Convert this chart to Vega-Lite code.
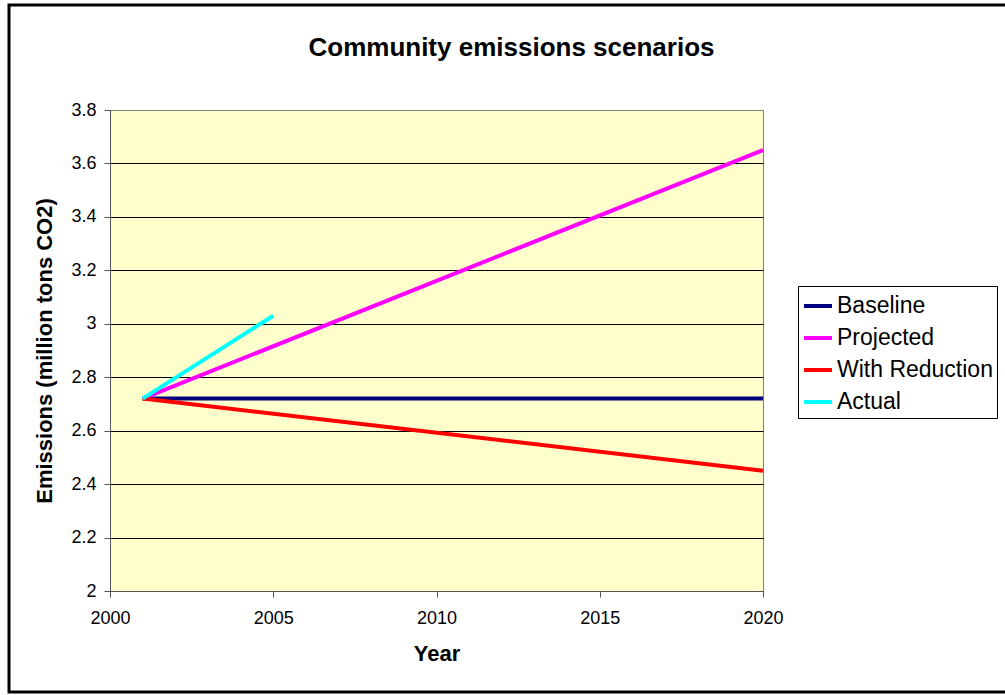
{
  "$schema": "https://vega.github.io/schema/vega-lite/v6.json",
  "width": 653,
  "height": 481,
  "autosize": {"type": "none"},
  "padding": {"left": 110, "top": 110, "right": 242, "bottom": 104},
  "background": "white",
  "title": {
    "text": "Community emissions scenarios",
    "font": "Liberation Sans",
    "fontSize": 26,
    "fontWeight": "bold",
    "color": "#000000",
    "anchor": "middle",
    "frame": "group",
    "baseline": "alphabetic",
    "dx": 75,
    "offset": -78
  },
  "config": {
    "font": "Liberation Sans",
    "view": {"fill": "#FFFFCC", "stroke": "#808080", "strokeWidth": 1},
    "axis": {
      "labelFont": "Liberation Sans",
      "labelFontSize": 18,
      "labelColor": "#000000",
      "labelFlush": false,
      "titleFont": "Liberation Sans",
      "titleFontSize": 22,
      "titleFontWeight": "bold",
      "titleColor": "#000000",
      "domainColor": "#555555",
      "tickColor": "#555555",
      "tickSize": 6
    }
  },
  "datasets": {
    "emissions": [
      {"series": "Baseline", "year": 2001, "value": 2.72},
      {"series": "Baseline", "year": 2020, "value": 2.72},
      {"series": "Projected", "year": 2001, "value": 2.72},
      {"series": "Projected", "year": 2020, "value": 3.65},
      {"series": "With Reduction", "year": 2001, "value": 2.72},
      {"series": "With Reduction", "year": 2020, "value": 2.45},
      {"series": "Actual", "year": 2001, "value": 2.72},
      {"series": "Actual", "year": 2005, "value": 3.03}
    ]
  },
  "layer": [
    {
      "data": {"values": [{"frame": "outer"}]},
      "mark": {"type": "rect", "fill": null, "fillOpacity": 0, "stroke": "#000000", "strokeWidth": 3, "clip": false},
      "encoding": {
        "x": {"value": -101},
        "x2": {"value": 905},
        "y": {"value": -105},
        "y2": {"value": 582}
      }
    },
    {
      "data": {"name": "emissions"},
      "mark": {"type": "line", "strokeWidth": 4, "strokeCap": "butt"},
      "encoding": {
        "x": {
          "field": "year",
          "type": "quantitative",
          "scale": {"domain": [2000, 2020], "nice": false, "zero": false},
          "axis": {
            "values": [2000, 2005, 2010, 2015, 2020],
            "format": "d",
            "grid": false,
            "labelPadding": 12,
            "title": "Year",
            "titlePadding": 16
          }
        },
        "y": {
          "field": "value",
          "type": "quantitative",
          "scale": {"domain": [2, 3.8], "nice": false, "zero": false},
          "axis": {
            "values": [2, 2.2, 2.4, 2.6, 2.8, 3, 3.2, 3.4, 3.6, 3.8],
            "format": "~g",
            "grid": true,
            "gridColor": {"condition": {"test": "datum.value >= 3.79", "value": "#808080"}, "value": "#000000"},
            "gridOpacity": 1,
            "labelPadding": 8,
            "title": "Emissions (million tons CO2)",
            "titlePadding": 14
          }
        },
        "color": {
          "field": "series",
          "type": "nominal",
          "scale": {
            "domain": ["Baseline", "Projected", "With Reduction", "Actual"],
            "range": ["#000080", "#FF00FF", "#FF0000", "#00FFFF"]
          },
          "legend": {
            "title": null,
            "orient": "none",
            "legendX": 688,
            "legendY": 176,
            "symbolType": "stroke",
            "symbolSize": 784,
            "symbolStrokeWidth": 4,
            "labelFont": "Liberation Sans",
            "labelFontSize": 23,
            "labelColor": "#000000",
            "labelOffset": 3,
            "rowPadding": 4,
            "strokeColor": "#000000",
            "fillColor": "#FFFFFF",
            "padding": 4
          }
        }
      }
    }
  ]
}
